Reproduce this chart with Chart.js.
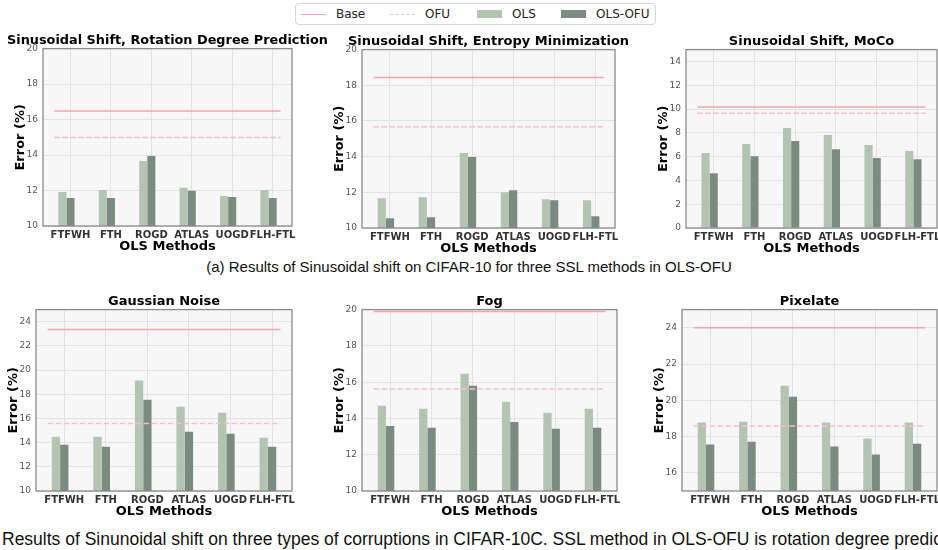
<!DOCTYPE html>
<html>
<head>
<meta charset="utf-8">
<script src="https://cdn.jsdelivr.net/npm/chart.js@4.4.1/dist/chart.umd.min.js"></script>
<style>
  body { margin: 0; width: 938px; height: 550px; overflow: hidden; background: #fff; position: relative; }
  canvas { position: absolute; }
  .legend { position: absolute; left: 295px; top: 3px; width: 361px; height: 22px; border: 1px solid #d6d6d6; border-radius: 4px;
            font: 12px "DejaVu Sans"; color: #222; box-sizing: border-box; }
  .legend span { position: absolute; top: 3px; }
  .sw { position: absolute; }
  .cap { position: absolute; font-family: "Liberation Sans"; color: #111; white-space: nowrap; }
</style>
</head>
<body>
<div class="legend">
  <div class="sw" style="left:5px;top:10px;width:25px;border-top:1.5px solid #f0a6b3"></div><span style="left:40px">Base</span>
  <div class="sw" style="left:94px;top:10px;width:25px;border-top:1.5px dashed #f4c0c6"></div><span style="left:129px">OFU</span>
  <div class="sw" style="left:181px;top:6px;width:25px;height:8px;background:#b3c4b3"></div><span style="left:216px">OLS</span>
  <div class="sw" style="left:265px;top:6px;width:25px;height:8px;background:#7c8b80"></div><span style="left:300px">OLS-OFU</span>
</div>
<div class="cap" style="left:0;width:938px;text-align:center;top:258px;font-size:15px">(a) Results of Sinusoidal shift on CIFAR-10 for three SSL methods in OLS-OFU</div>
<div class="cap" style="left:2px;top:529px;font-size:17.5px">Results of Sinunoidal shift on three types of corruptions in CIFAR-10C. SSL method in OLS-OFU is rotation degree predic</div>
<script>
const methods = ["FTFWH", "FTH", "ROGD", "ATLAS", "UOGD", "FLH-FTL"];

// Sinusoidal shift, rotation degree prediction
const rotOls    = [11.92, 12.03, 13.67, 12.15, 11.69, 12.03];
const rotOlsOfu = [11.58, 11.58, 13.95, 11.98, 11.64, 11.58];
const rotBase = 16.48, rotOfu = 14.99;

// Sinusoidal shift, entropy minimization
const entOls    = [11.67, 11.73, 14.20, 12.01, 11.61, 11.56];
const entOlsOfu = [10.54, 10.60, 13.98, 12.12, 11.56, 10.66];
const entBase = 18.44, entOfu = 15.68;

// Sinusoidal shift, MoCo
const mocoOls    = [6.30, 7.06, 8.41, 7.82, 6.97, 6.47];
const mocoOlsOfu = [4.61, 6.04, 7.31, 6.63, 5.88, 5.79];
const mocoBase = 10.18, mocoOfu = 9.64;

// corruptions
const gaussOls    = [14.48, 14.48, 19.13, 16.97, 16.47, 14.40];
const gaussOlsOfu = [13.82, 13.65, 17.55, 14.90, 14.73, 13.65];
const gaussBase = 23.36, gaussOfu = 15.59;

const fogOls    = [14.70, 14.53, 16.46, 14.92, 14.31, 14.53];
const fogOlsOfu = [13.59, 13.48, 15.80, 13.81, 13.43, 13.48];
const fogBase = 19.90, fogOfu = 15.62;

const pixOls    = [18.77, 18.82, 20.80, 18.77, 17.89, 18.77];
const pixOlsOfu = [17.56, 17.72, 20.19, 17.45, 17.01, 17.61];
const pixBase = 24.0, pixOfu = 18.58;

const ticks10to20 = [10, 12, 14, 16, 18, 20];
const ticks0to14 = [0, 2, 4, 6, 8, 10, 12, 14];
const ticks10to24 = [10, 12, 14, 16, 18, 20, 22, 24];
const ticks16to24 = [16, 18, 20, 22, 24];

const lineSpan = [-0.4, 5.2];   // extent of the Base / OFU reference lines
const xRange = [-0.68, 5.48];

const panels = [
  { title: "Sinusoidal Shift, Rotation Degree Prediction", ols: rotOls, olsOfu: rotOlsOfu, base: rotBase, ofu: rotOfu, y: [10, 20], yTicks: ticks10to20, plot: [43, 49, 292, 226] },
  { title: "Sinusoidal Shift, Entropy Minimization", ols: entOls, olsOfu: entOlsOfu, base: entBase, ofu: entOfu, y: [10, 20], yTicks: ticks10to20, plot: [362, 50, 615, 228] },
  { title: "Sinusoidal Shift, MoCo", ols: mocoOls, olsOfu: mocoOlsOfu, base: mocoBase, ofu: mocoOfu, y: [0, 15], yTicks: ticks0to14, plot: [686, 50, 937, 228] },
  { title: "Gaussian Noise", ols: gaussOls, olsOfu: gaussOlsOfu, base: gaussBase, ofu: gaussOfu, y: [10, 25], yTicks: ticks10to24, plot: [36, 310, 292, 491] },
  { title: "Fog", ols: fogOls, olsOfu: fogOlsOfu, base: fogBase, ofu: fogOfu, y: [10, 20], yTicks: ticks10to20, plot: [362, 310, 617, 491] },
  { title: "Pixelate", ols: pixOls, olsOfu: pixOlsOfu, base: pixBase, ofu: pixOfu, y: [15, 25], yTicks: ticks16to24, plot: [682, 310, 937, 491] }
];

// plot background and frame like matplotlib axes
const framePlugin = {
  id: "frame",
  beforeDraw(chart) {
    const a = chart.chartArea, ctx = chart.ctx;
    ctx.save();
    ctx.fillStyle = "#f7f7f7";
    ctx.fillRect(a.left, a.top, a.right - a.left, a.bottom - a.top);
    ctx.restore();
  },
  afterDraw(chart) {
    const a = chart.chartArea, ctx = chart.ctx;
    ctx.save();
    ctx.strokeStyle = "#8a8a8a";
    ctx.lineWidth = 1.3;
    ctx.strokeRect(a.left, a.top, a.right - a.left, a.bottom - a.top);
    ctx.restore();
  }
};

const SIDE = 36, TITLE_H = 20.6, XAXIS_H = 30;
const font = "DejaVu Sans";

panels.forEach(p => {
  const [l, t, r, b] = p.plot;
  const left = l - SIDE, top = Math.round(t - TITLE_H);
  const w = (r - l) + 2 * SIDE, h = Math.round(b - top + XAXIS_H);
  const canvas = document.createElement("canvas");
  canvas.width = w; canvas.height = h;
  canvas.style.left = left + "px"; canvas.style.top = top + "px";
  document.body.appendChild(canvas);

  const hline = v => lineSpan.map(x => ({ x: x, y: v }));

  new Chart(canvas, {
    type: "bar",
    data: {
      datasets: [
        { type: "line", label: "Base", data: hline(p.base), borderColor: "#f0a6b3", borderWidth: 1.5, pointRadius: 0, order: 0 },
        { type: "line", label: "OFU", data: hline(p.ofu), borderColor: "#f4c0c6", borderWidth: 1.5, borderDash: [5.5, 2.5], pointRadius: 0, order: 0 },
        { label: "OLS", data: p.ols.map((v, i) => ({ x: i, y: v })), backgroundColor: "#b3c4b3", order: 1 },
        { label: "OLS-OFU", data: p.olsOfu.map((v, i) => ({ x: i, y: v })), backgroundColor: "#7c8b80", order: 1 },
        // empty slot so that OLS-OFU sits on the tick, as in the original
        { label: "", data: methods.map((m, i) => ({ x: i, y: null })), order: 1 }
      ]
    },
    options: {
      responsive: false,
      animation: false,
      devicePixelRatio: 1,
      layout: { padding: 0 },
      datasets: { bar: { categoryPercentage: 0.6, barPercentage: 1.0 } },
      plugins: {
        legend: { display: false },
        tooltip: { enabled: false },
        title: {
          display: true, text: p.title, color: "#000",
          font: { family: font, size: 13, weight: "bold" },
          padding: { top: 5, bottom: 0 }
        }
      },
      scales: {
        x: {
          type: "linear", min: xRange[0], max: xRange[1], offset: false,
          afterBuildTicks: s => { s.ticks = methods.map((m, i) => ({ value: i })); },
          afterFit: s => { s.height = XAXIS_H; },
          grid: { color: "#e2e2e2", offset: false, drawTicks: false },
          border: { display: false },
          ticks: {
            autoSkip: false, maxRotation: 0, minRotation: 0, padding: 3, color: "#333",
            font: { family: font, size: 10, weight: "bold" },
            callback: v => methods[Math.round(v)] || ""
          },
          title: { display: true, text: "OLS Methods", color: "#000", font: { family: font, size: 13, weight: "bold" }, padding: { top: 0, bottom: 2 } }
        },
        y: {
          min: p.y[0], max: p.y[1], beginAtZero: false,
          afterBuildTicks: s => { s.ticks = p.yTicks.map(v => ({ value: v })); },
          afterFit: s => { s.width = SIDE; },
          grid: { color: "#e2e2e2", drawTicks: false },
          border: { display: false },
          ticks: { padding: 5, color: "#555", font: { family: font, size: 9 } },
          title: { display: true, text: "Error (%)", color: "#000", font: { family: font, size: 13, weight: "bold" }, padding: { top: 6, bottom: 0 } }
        },
        // empty right-hand axis: keeps the plot centred under the title
        spacer: {
          type: "linear", axis: "y", position: "right",
          afterFit: s => { s.width = SIDE; },
          grid: { display: false, drawTicks: false },
          border: { display: false },
          ticks: { display: false }
        }
      }
    },
    plugins: [framePlugin]
  });
});
</script>
</body>
</html>
